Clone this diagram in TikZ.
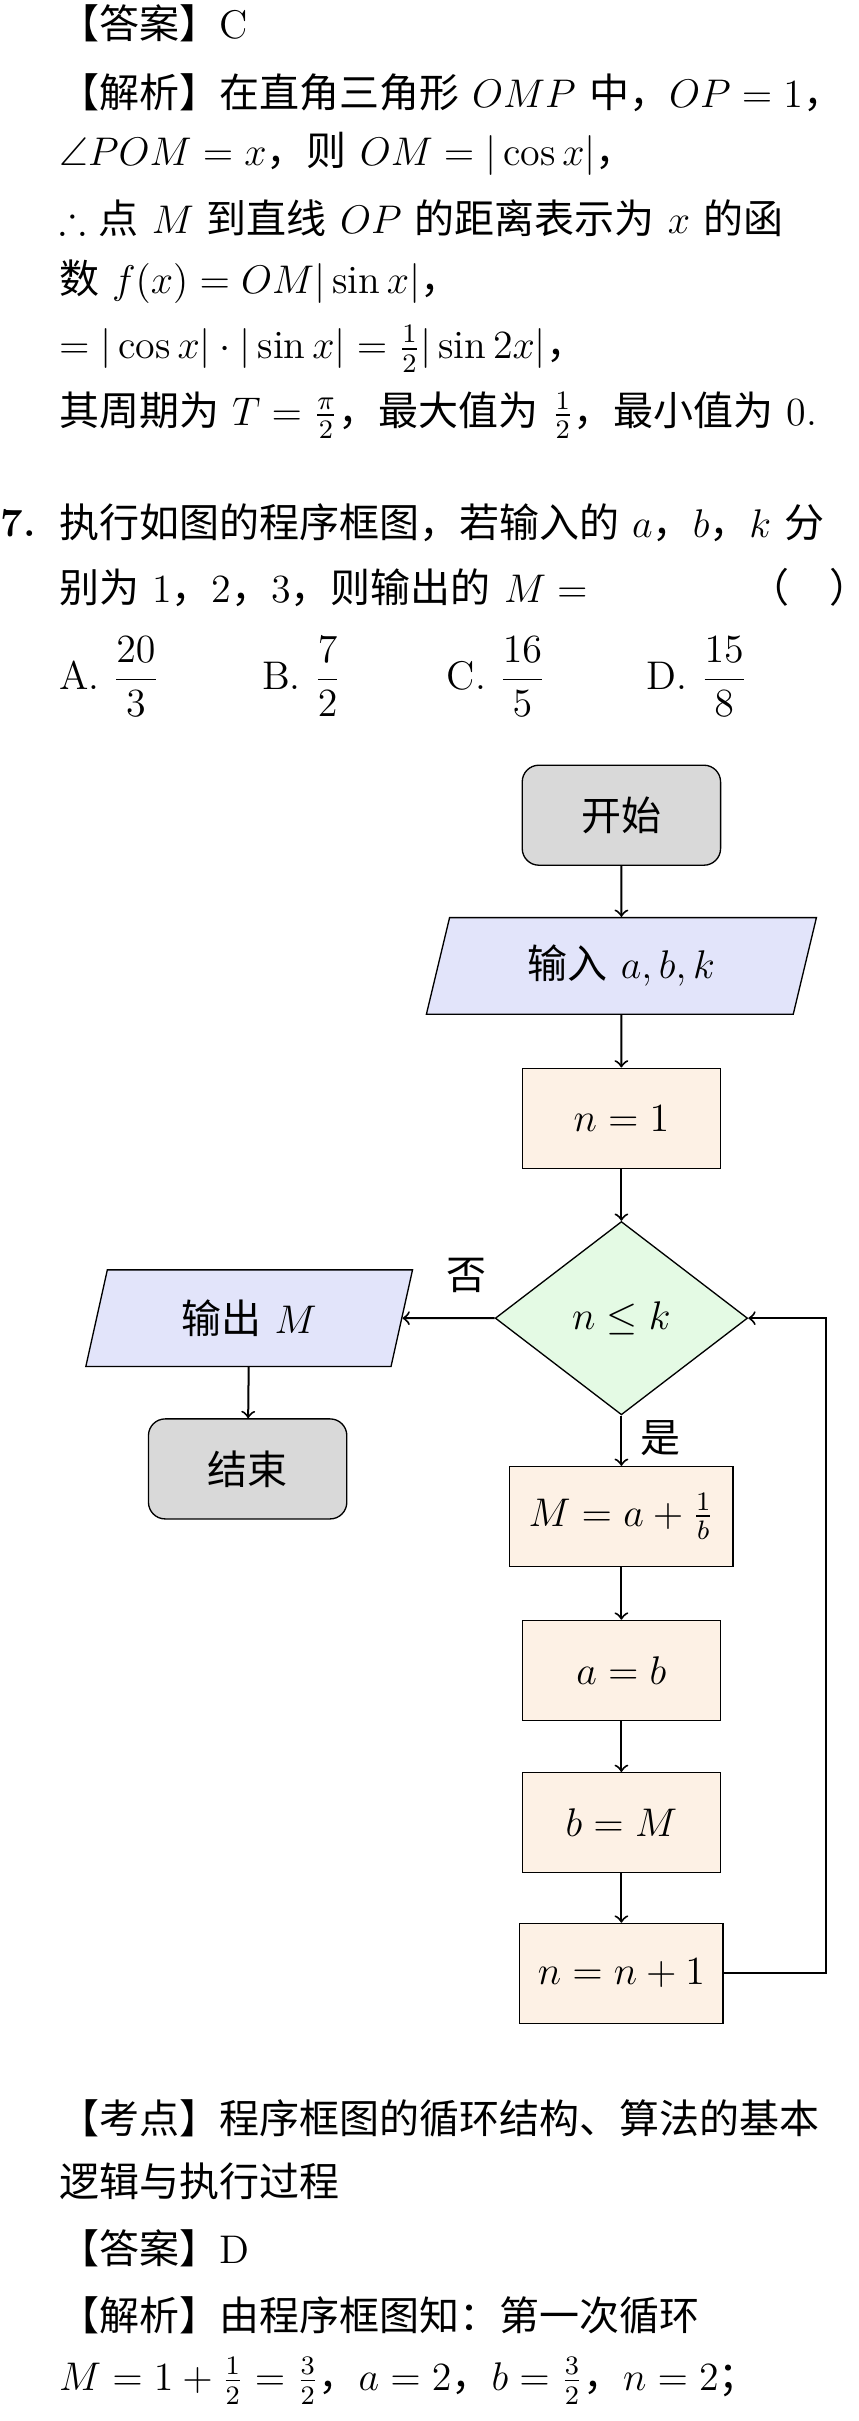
\documentclass[tikz,border=0pt]{standalone}
\usepackage{amsmath,amssymb}
\usepackage{fontspec}
\newfontfamily\cjk{Noto Sans CJK SC}
\usetikzlibrary{shapes.geometric, positioning}
\definecolor{StartGray}{RGB}{217, 217, 217}
\definecolor{IoBlue}{RGB}{226, 228, 250}
\definecolor{StepPeach}{RGB}{253, 241, 229}
\definecolor{TestGreen}{RGB}{228, 250, 228}
\newcommand{\zh}[1]{{\cjk #1}}
\tikzset{
  txtline/.style={anchor=west, inner sep=0pt},
  termbox/.style={draw, rounded corners=5pt, fill=StartGray, minimum width=59.5pt, minimum height=30pt},
  iobox/.style={draw, trapezium, trapezium left angle=70, trapezium right angle=110, fill=IoBlue, minimum height=29pt, trapezium stretches body},
  procbox/.style={draw, fill=StepPeach, minimum width=59.5pt, minimum height=30pt},
  testbox/.style={draw, diamond, fill=TestGreen, minimum width=75.7pt, minimum height=58pt, inner sep=0pt},
  flow/.style={->, semithick}
}
\begin{document}
\begin{tikzpicture}[x=0.4614pt, y=-0.4614pt, font=\fontsize{12}{15}\selectfont]
  \useasboundingbox (0,0) rectangle (558,1574);

  % worked answer above
  \node[txtline] at (38,15) {\zh{【答案】}C};
  \node[txtline] at (38,60) {\zh{【解析】在直角三角形} $OMP$ \zh{中，}$OP=1$\zh{，}};
  \node[txtline] at (38,100) {$\angle POM=x$\zh{，则} $OM=|\cos x|$\zh{，}};
  \node[txtline] at (38,142) {$\therefore$ \zh{点} $M$ \zh{到直线} $OP$ \zh{的距离表示为} $x$ \zh{的函}};
  \node[txtline] at (38,183) {\zh{数} $f(x)=OM|\sin x|$\zh{，}};
  \node[txtline] at (38,227) {$=|\cos x|\cdot|\sin x|=\frac12|\sin 2x|$\zh{，}};
  \node[txtline] at (38,270) {\zh{其周期为} $T=\frac{\pi}{2}$\zh{，最大值为} $\frac12$\zh{，最小值为} 0.};

  % question 7
  \node[txtline] at (0,340) {\textbf{7.}};
  \node[txtline] at (38,340) {\zh{执行如图的程序框图，若输入的} $a$\zh{，}$b$\zh{，}$k$ \zh{分}};
  \node[txtline] at (38,382) {\zh{别为} 1\zh{，}2\zh{，}3\zh{，则输出的} $M=$};
  \node[txtline] at (487,382) {\zh{（\quad ）}};
  \node[txtline] at (38,440) {A. $\dfrac{20}{3}$};
  \node[txtline] at (170,440) {B. $\dfrac{7}{2}$};
  \node[txtline] at (290,440) {C. $\dfrac{16}{5}$};
  \node[txtline] at (420,440) {D. $\dfrac{15}{8}$};

  % flowchart
  \node[termbox] (start) at (404,530) {\zh{开始}};
  \node[iobox, minimum width=117pt] (input) at (404,628) {\zh{输入} $a,b,k$};
  \node[procbox] (init) at (404,727) {$n=1$};
  \node[testbox] (cond) at (404,857) {$n\le k$};
  \node[iobox, minimum width=98pt] (output) at (162,857) {\zh{输出} $M$};
  \node[termbox] (stop) at (161,955) {\zh{结束}};
  \node[procbox, minimum width=67pt] (calc) at (404,986) {$M=a+\frac1b$};
  \node[procbox] (shiftA) at (404,1086) {$a=b$};
  \node[procbox] (shiftB) at (404,1185) {$b=M$};
  \node[procbox, minimum width=61pt] (incr) at (404,1283) {$n=n+1$};
  \coordinate (back) at (537,1283);

  \draw[flow] (start) -- (input);
  \draw[flow] (input) -- (init);
  \draw[flow] (init) -- (cond);
  \draw[flow] (cond) -- (calc) node[pos=0.45, right=2pt] {\zh{是}};
  \draw[flow] (cond) -- (output.east) node[pos=0.3, above=4pt] {\zh{否}};
  \draw[flow] (output) -- (stop);
  \draw[flow] (calc) -- (shiftA);
  \draw[flow] (shiftA) -- (shiftB);
  \draw[flow] (shiftB) -- (incr);
  \draw[flow] (incr) -- (back) |- (cond.east);

  % solution below
  \node[txtline] at (38,1377) {\zh{【考点】程序框图的循环结构、算法的基本}};
  \node[txtline] at (38,1418) {\zh{逻辑与执行过程}};
  \node[txtline] at (38,1462) {\zh{【答案】}D};
  \node[txtline] at (38,1505) {\zh{【解析】由程序框图知：第一次循环}};
  \node[txtline] at (38,1548) {$M=1+\frac12=\frac32$\zh{，}$a=2$\zh{，}$b=\frac32$\zh{，}$n=2$\zh{；}};
\end{tikzpicture}
\end{document}
